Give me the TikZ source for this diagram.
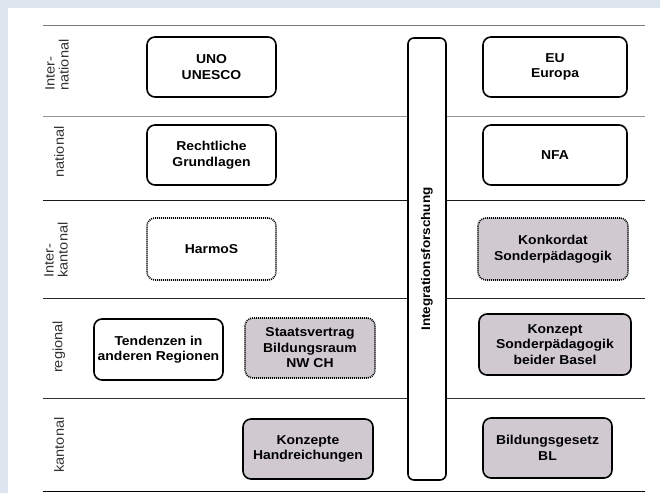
\documentclass[tikz,border=0pt]{standalone}
\usepackage{fontspec}
\setmainfont{Liberation Sans}[FakeStretch=1.08]
\definecolor{bgblue}{RGB}{221,230,238}
\definecolor{boxgray}{RGB}{208,202,208}
\definecolor{lgray}{RGB}{150,150,150}
\definecolor{dgray}{RGB}{50,50,50}
\tikzset{
  box/.style={draw=black, line width=1.6pt, rounded corners=8pt, fill=white,
    align=center, inner sep=2pt,
    font=\bfseries\fontsize{12.9}{15.5}\selectfont},
  grayfill/.style={fill=boxgray},
  dotbox/.style={dash pattern=on 1pt off 1pt},
  rowlabel/.style={rotate=90, align=left, text=dgray, inner sep=0pt,
    font=\fontsize{13.5}{14}\selectfont},
  sepline/.style={line width=1pt}
}
\begin{document}
\begin{tikzpicture}[x=1pt,y=-1pt]
\useasboundingbox (0,0) rectangle (660,493);
\fill[bgblue] (0,0) rectangle (660,493);
\fill[white] (8,8) rectangle (660,493);
% separator lines
\draw[sepline, draw=lgray!80!black] (43,25) -- (645,25);
\draw[sepline, draw=lgray] (43,116) -- (645,116);
\draw[sepline, draw=black!90] (43,200) -- (645,200);
\draw[sepline, draw=black!85] (43,298) -- (645,298);
\draw[sepline, draw=dgray] (43,398) -- (645,398);
\draw[sepline, draw=black] (43,491) -- (645,491);
% row labels
\node[rowlabel] (l1) at (57,65) {Inter-\\national};
\node[rowlabel] (l2) at (59,152) {national};
\node[rowlabel] (l3) at (56,250) {Inter-\\kantonal};
\node[rowlabel] (l4) at (59,347) {regional};
\node[rowlabel] (l5) at (59,445) {kantonal};
% boxes
\node[box, minimum width=129pt, minimum height=60pt] (uno) at (211.5,67) {UNO\\UNESCO};
\node[box, minimum width=129pt, minimum height=60pt] (recht) at (211.5,155) {Rechtliche\\Grundlagen};
\node[box, dotbox, minimum width=129pt, minimum height=62pt] (harmos) at (211.5,249) {HarmoS};
\node[box, minimum width=129pt, minimum height=61pt] (tend) at (158.5,349.5) {Tendenzen in\\anderen Regionen};
\node[box, dotbox, grayfill, minimum width=130pt, minimum height=60pt] (staats) at (310,348) {Staatsvertrag\\Bildungsraum\\NW CH};
\node[box, grayfill, minimum width=130pt, minimum height=60pt] (konzepte) at (308,449) {Konzepte\\Handreichungen};
\node[box, rounded corners=6pt, minimum width=38pt, minimum height=442pt] (integ) at (427,259) {};
\node[rotate=90, font=\bfseries\fontsize{12.5}{15}\selectfont, inner sep=0pt] (integtext) at (integ.center) {Integrationsforschung};
\node[box, minimum width=144pt, minimum height=60pt] (eu) at (555,67) {EU\\Europa};
\node[box, minimum width=144pt, minimum height=60pt] (nfa) at (555,155) {NFA};
\node[box, dotbox, grayfill, minimum width=150pt, minimum height=62pt] (konk) at (553,249) {Konkordat\\Sonderpädagogik};
\node[box, grayfill, minimum width=152pt, minimum height=61pt] (konzsp) at (555,344.5) {Konzept\\Sonderpädagogik\\beider Basel};
\node[box, grayfill, minimum width=129pt, minimum height=60pt] (bildung) at (547.5,448) {Bildungsgesetz\\BL};
\end{tikzpicture}
\end{document}
